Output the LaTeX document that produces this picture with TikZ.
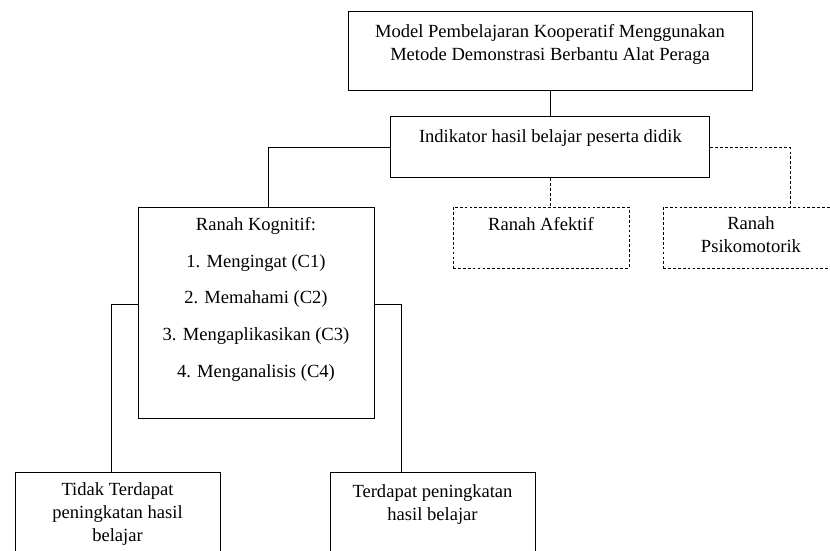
\documentclass[tikz,border=0pt]{standalone}
\usepackage{fontspec}
\setmainfont{Liberation Serif}

\tikzset{
	kotak/.style={draw, line width=0.7pt, align=center, inner sep=0pt,
		font=\fontsize{13.2}{16.4}\selectfont},
	kotakputus/.style={kotak, dash pattern=on 2pt off 1.5pt},
	garis/.style={line width=0.7pt},
	garisputus/.style={garis, dash pattern=on 2pt off 1.5pt}
}

\begin{document}
\begin{tikzpicture}

\useasboundingbox (0,0) rectangle (20.75,13.775);

\node [kotak, minimum width=10.1cm, minimum height=1.975cm] (model) at (13.75,12.4875)
	{Model Pembelajaran Kooperatif Menggunakan\\Metode Demonstrasi Berbantu Alat Peraga\\[-4pt]\mbox{}};

\node [kotak, minimum width=7.975cm, minimum height=1.525cm] (indikator) at (13.76,10.0875)
	{Indikator hasil belajar peserta didik\\\mbox{}};

%%%%%%%%%%%%%%%%%%%%%%%%%%%%%%%%%%%%%%%%%%

\node [kotak, minimum width=5.9cm, minimum height=5.275cm] (kognitif) at (6.4,5.9625)
	{Ranah Kognitif:\\[9.9pt]1. Mengingat (C1)\\[9.9pt]2. Memahami (C2)\\[9.9pt]3. Mengaplikasikan (C3)\\[9.9pt]4. Menganalisis (C4)\\[5pt]\mbox{}};

\node [kotakputus, minimum width=4.4cm, minimum height=1.525cm] (afektif) at (13.525,7.8375)
	{Ranah Afektif\\[3pt]\mbox{}};

\node [kotakputus, minimum width=4.4cm, minimum height=1.525cm] (psikomotorik) at (18.775,7.8375)
	{Ranah\\Psikomotorik\\[-12pt]\mbox{}};

%%%%%%%%%%%%%%%%%%%%%%%%%%%%%%%%%%%%%%%%%%

\node [kotak, minimum width=5.125cm, minimum height=2.1cm] (tidak) at (2.9375,0.925)
	{Tidak Terdapat\\peningkatan hasil\\belajar};

\node [kotak, minimum width=5.125cm, minimum height=2.1cm] (terdapat) at (10.8125,0.925)
	{Terdapat peningkatan\\hasil belajar\\\mbox{}};

%%%%%%%%%%%%%%%%%%%%%%%%%%%%%%%%%%%%%%%%%%

\draw [garis] (model.south) -- (model.south |- indikator.north);
\draw [garis] (indikator.west) -| ([xshift=0.3cm]kognitif.north);
\draw [garisputus] (indikator.south) -- (indikator.south |- afektif.north);
\draw [garisputus] (indikator.east) -| ([xshift=0.975cm]psikomotorik.north);

\draw [garis] ([yshift=0.2cm]kognitif.west) -| ([xshift=-0.15cm]tidak.north);
\draw [garis] ([yshift=0.2cm]kognitif.east) -| ([xshift=-0.7875cm]terdapat.north);

\end{tikzpicture}
\end{document}
